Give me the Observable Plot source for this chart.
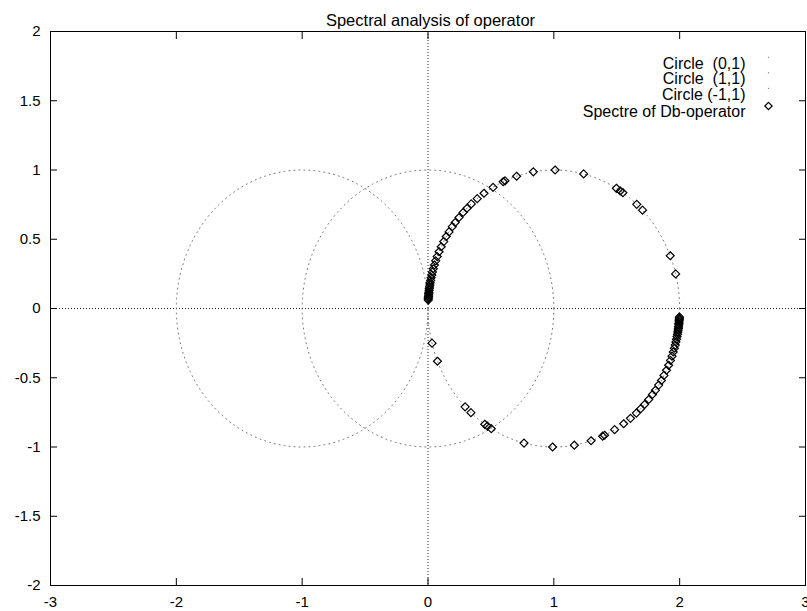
<!DOCTYPE html>
<html><head><meta charset="utf-8">
<script src="https://cdn.jsdelivr.net/npm/d3@7"></script>
<script src="https://cdn.jsdelivr.net/npm/@observablehq/plot@0.6"></script>
<style>
body{margin:0;background:#fff;}
#chart svg{display:block;}
#chart svg text{white-space:pre;}
</style></head><body><div id="chart"></div>
<script>
const title = "Spectral analysis of operator";
const xTicks = [-3, -2, -1, 0, 1, 2, 3];
const yTicks = [-2, -1.5, -1, -0.5, 0, 0.5, 1, 1.5, 2];
const circleNames = ["Circle  (0,1)", "Circle  (1,1)", "Circle (-1,1)"];
const circleCenters = [0, 1, -1];
const circleRadius = 1;
const spectreName = "Spectre of Db-operator";
const upperRe = [1.968,1.925,1.705,1.659,1.549,1.528,1.497,1.237,1.010,0.837,0.704,0.612,0.597,0.517,0.445,0.391,0.344,0.310,0.279,0.246,0.216,0.193,0.167,0.145,0.125,0.105,0.088,0.073,0.061,0.051,0.042,0.035,0.030,0.025,0.021,0.017,0.015,0.012,0.010,0.009,0.007,0.006,0.005,0.004,0.003,0.002,0.002];
const upperIm = [0.250,0.381,0.710,0.752,0.836,0.849,0.868,0.972,1.000,0.987,0.955,0.922,0.915,0.875,0.832,0.793,0.755,0.724,0.693,0.657,0.621,0.591,0.553,0.520,0.483,0.446,0.410,0.375,0.344,0.314,0.287,0.264,0.242,0.222,0.203,0.186,0.170,0.156,0.143,0.131,0.118,0.108,0.098,0.087,0.078,0.070,0.061];
const lowerRe = [0.032,0.075,0.295,0.341,0.451,0.472,0.503,0.763,0.990,1.163,1.296,1.388,1.403,1.483,1.555,1.609,1.656,1.690,1.721,1.754,1.784,1.807,1.833,1.855,1.875,1.895,1.912,1.927,1.939,1.949,1.958,1.965,1.970,1.975,1.979,1.983,1.985,1.988,1.990,1.991,1.993,1.994,1.995,1.996,1.997,1.998,1.998];
const lowerIm = [-0.250,-0.381,-0.710,-0.752,-0.836,-0.849,-0.868,-0.972,-1.000,-0.987,-0.955,-0.922,-0.915,-0.875,-0.832,-0.793,-0.755,-0.724,-0.693,-0.657,-0.621,-0.591,-0.553,-0.520,-0.483,-0.446,-0.410,-0.375,-0.344,-0.314,-0.287,-0.264,-0.242,-0.222,-0.203,-0.186,-0.170,-0.156,-0.143,-0.131,-0.118,-0.108,-0.098,-0.087,-0.078,-0.070,-0.061];

const spectre = upperRe.map((re, i) => ({re, im: upperIm[i]}))
  .concat(lowerRe.map((re, i) => ({re, im: lowerIm[i]})));

// circles (center c, radius 1) sampled parametrically
const circleData = circleCenters.flatMap((c, k) =>
  d3.range(0, 361).map(a => ({
    x: c + circleRadius * Math.cos(a * Math.PI / 180),
    y: circleRadius * Math.sin(a * Math.PI / 180),
    k
  })));

const FONT = "'Liberation Sans', Arial, Helvetica, sans-serif";
const fmt = d => String(d);
const legendRowsDy = [25.7, 41.3, 56.9, 74.5];

const legendMarks = [];
circleNames.forEach((name, i) => {
  legendMarks.push(Plot.text([name], {text: d => d, frameAnchor: "top-right", dx: -60, dy: legendRowsDy[i], textAnchor: "end", fontSize: 16, fill: "black"}));
  legendMarks.push(Plot.dot([name], {frameAnchor: "top-right", dx: -37, dy: legendRowsDy[i], r: 0.7, fill: "#888", stroke: "none"}));
});
legendMarks.push(Plot.text([spectreName], {text: d => d, frameAnchor: "top-right", dx: -60, dy: legendRowsDy[3], textAnchor: "end", fontSize: 16, fill: "black"}));
legendMarks.push(Plot.dot([spectreName], {frameAnchor: "top-right", dx: -37, dy: legendRowsDy[3], symbol: "diamond2", r: 3.3, fill: "none", stroke: "black", strokeWidth: 1.2}));

const chart = Plot.plot({
  width: 807,
  height: 611,
  marginTop: 31,
  marginLeft: 50,
  marginRight: 2,
  marginBottom: 26,
  x: {domain: [-3, 3]},
  y: {domain: [-2, 2]},
  style: {fontFamily: FONT, fontSize: "15px", background: "white", color: "black", overflow: "visible"},
  marks: [
    Plot.ruleX([0], {stroke: "#222", strokeDasharray: "1,2"}),
    Plot.ruleY([0], {stroke: "#222", strokeDasharray: "1,2"}),
    Plot.line(circleData, {x: "x", y: "y", z: "k", stroke: "#777", strokeWidth: 1, strokeDasharray: "1,4"}),
    Plot.dot(spectre, {x: "re", y: "im", symbol: "diamond2", r: 3.6, fill: "none", stroke: "black", strokeWidth: 1.2}),
    Plot.frame({stroke: "black"}),
    Plot.axisX({ticks: xTicks, anchor: "bottom", tickSize: 0, tickPadding: 11, tickFormat: fmt, label: null}),
    Plot.axisX({ticks: xTicks, anchor: "bottom", tickSize: -7, tickFormat: () => "", label: null, stroke: "black"}),
    Plot.axisX({ticks: xTicks, anchor: "top", tickSize: -7, tickFormat: () => "", label: null, stroke: "black"}),
    Plot.axisY({ticks: yTicks, anchor: "left", tickSize: 0, tickPadding: 10, tickFormat: fmt, label: null}),
    Plot.axisY({ticks: yTicks, anchor: "left", tickSize: -7, tickFormat: () => "", label: null, stroke: "black"}),
    Plot.axisY({ticks: yTicks, anchor: "right", tickSize: -7, tickFormat: () => "", label: null, stroke: "black"}),
    Plot.text([title], {text: d => d, frameAnchor: "top", dx: 2.5, dy: -17.5, fontSize: 16.5, fill: "black"}),
    ...legendMarks
  ]
});
document.getElementById("chart").appendChild(chart);
</script>
</body></html>
